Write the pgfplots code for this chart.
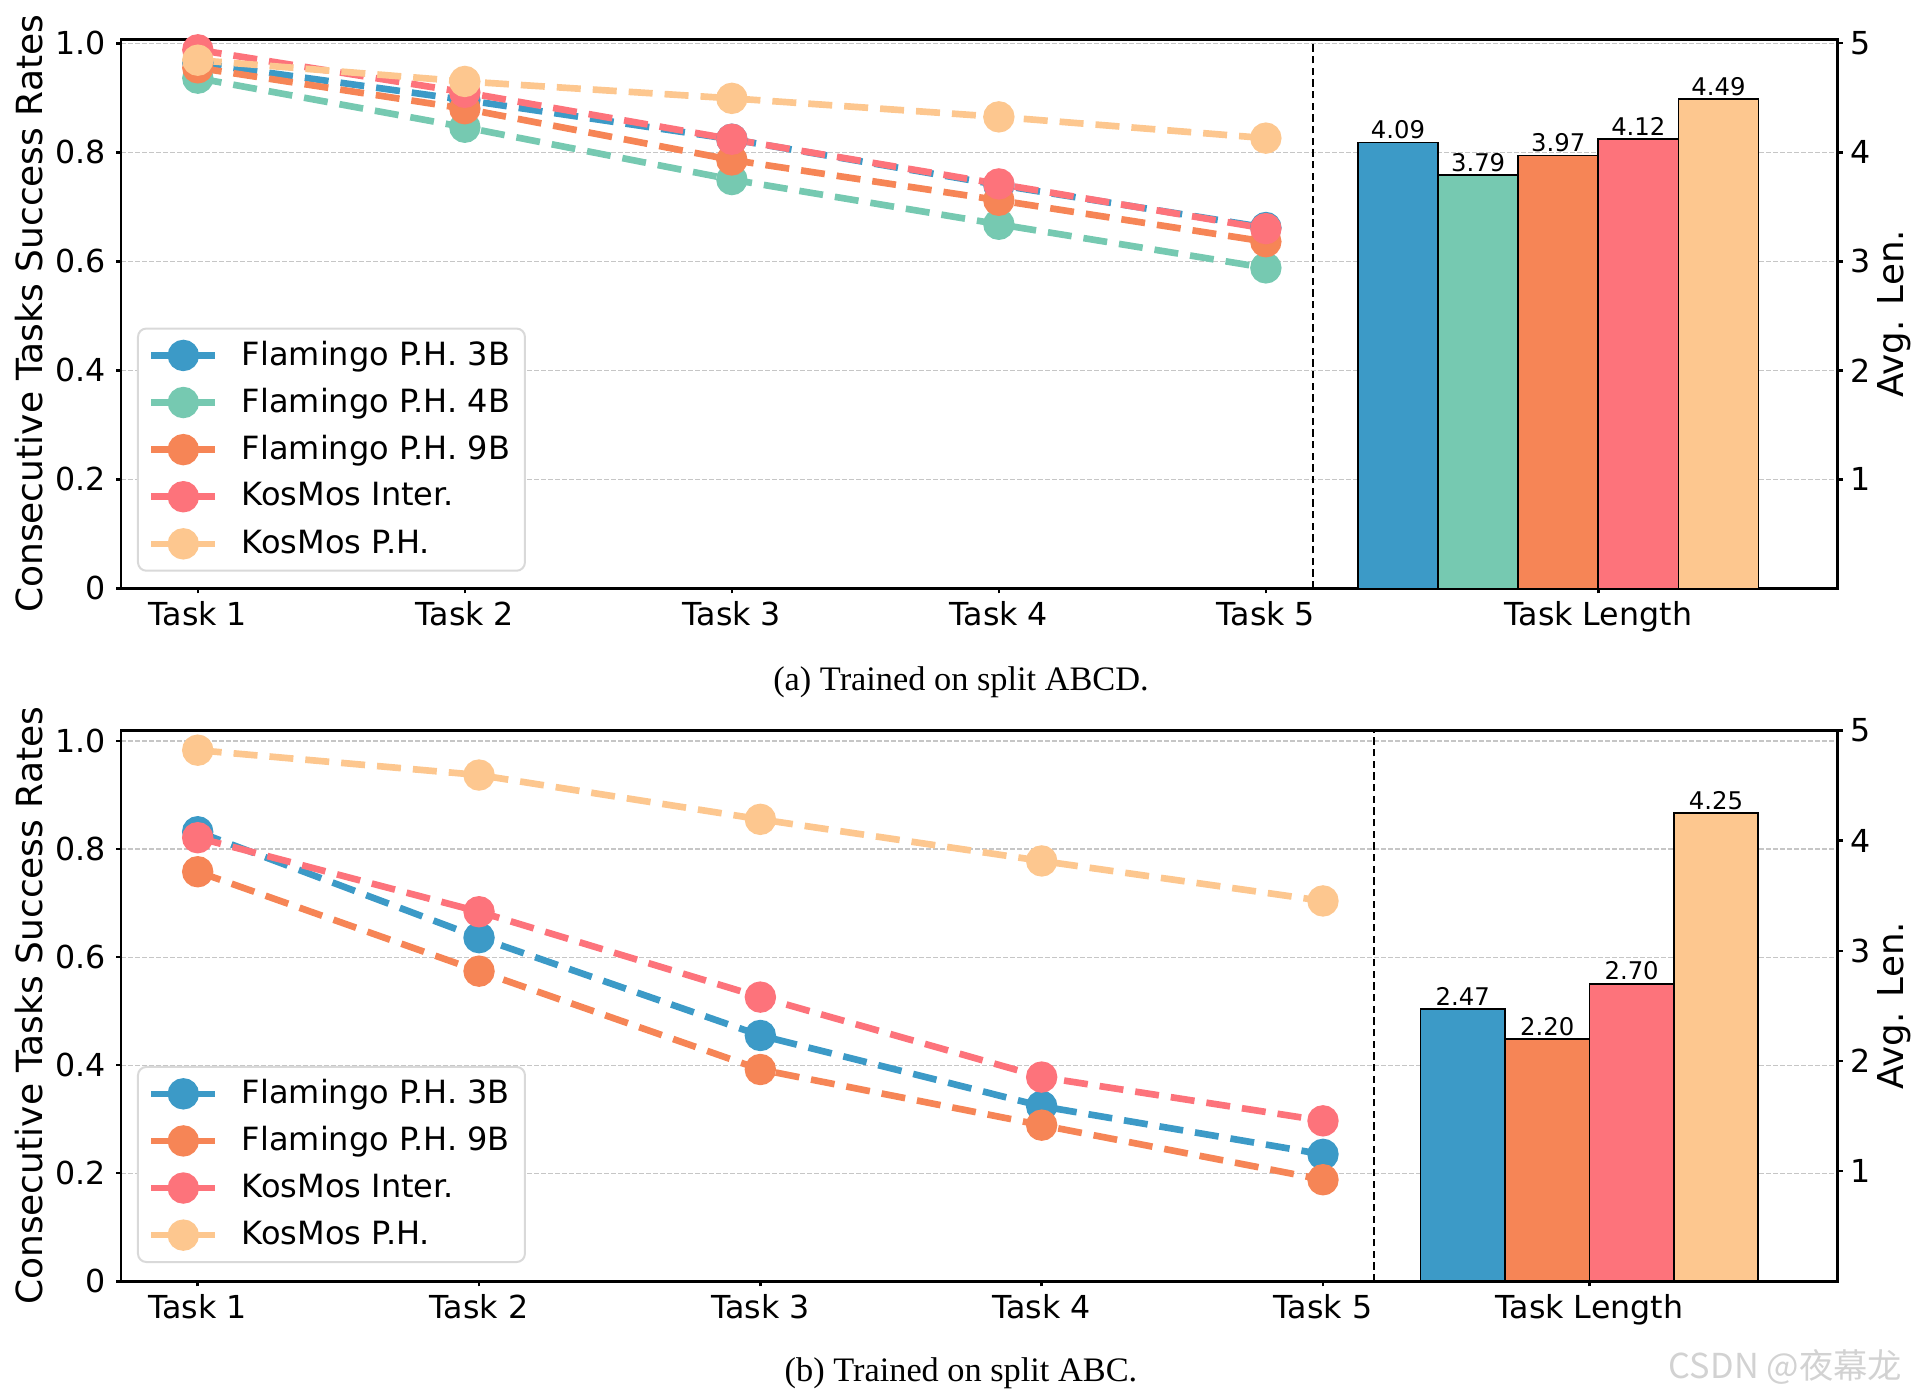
\documentclass[border=0pt]{standalone}
\usepackage{fontspec}
\setmainfont{DejaVu Sans}
\newfontfamily\capfont{Liberation Serif}
\newfontfamily\cjk{Noto Sans CJK SC}
\usepackage{pgfplots}
\pgfplotsset{compat=1.18}

\definecolor{cB}{HTML}{3C9AC7}
\definecolor{cT}{HTML}{76C9B1}
\definecolor{cO}{HTML}{F68556}
\definecolor{cP}{HTML}{FD737B}
\definecolor{cY}{HTML}{FDC78F}

\pgfplotsset{
  lineax/.style={
    scale only axis, width=514.9pt,
    tick pos=left, tick align=outside, major tick length=1.5pt,
    every tick/.style={black, line width=0.75pt},
    axis line style={line width=0.75pt},
    ymin=0,
    ytick={0,0.2,0.4,0.6,0.8,1.0}, yticklabels={0,0.2,0.4,0.6,0.8,1.0},
    ymajorgrids, grid style={dash pattern=on 1.4pt off 0.7pt, gray!45, line width=0.35pt},
    tick label style={font=\fontsize{9.5}{11}\selectfont},
    xticklabel style={yshift=1.1pt},
    yticklabel style={xshift=0.5pt},
    ylabel={Consecutive Tasks Success Rates},
    ylabel style={font=\fontsize{10.8}{12}\selectfont, at={(axis description cs:-0.0537,0.5)}, anchor=center},
    legend cell align=left,
    legend image code/.code={\draw[mark repeat=2,mark phase=2,#1,solid] plot coordinates {(0pt,0pt) (9.6pt,0pt) (19.2pt,0pt)};},
    legend style={anchor=south west, draw=black!15, line width=0.6pt, rounded corners=2.5pt,
      fill=white, font=\fontsize{9.6}{11}\selectfont, inner xsep=3pt, inner ysep=1pt,
      row sep=0pt, column sep=5.5pt, nodes={inner ysep=0pt, inner xsep=1.5pt, minimum height=14.13pt}},
  },
  ser/.style={#1, line width=2pt, dash pattern=on 7.2pt off 3.6pt, mark=*, mark size=3.7pt, mark options={solid}},
  barax/.style={
    scale only axis, width=514.9pt,
    axis x line=none, axis y line*=right,
    ytick pos=right, tick align=outside, major tick length=1.5pt,
    every tick/.style={black, line width=0.75pt},
    axis line style={line width=0.75pt},
    ymin=0, ytick={1,2,3,4,5}, yticklabels={1,2,3,4,5},
    tick label style={font=\fontsize{9.5}{11}\selectfont},
    yticklabel style={xshift=-1.2pt},
    ylabel={Avg. Len.},
    ylabel style={font=\fontsize{10.7}{12}\selectfont, at={(axis description cs:1.033,0.5)}, anchor=center},
    /pgf/number format/assume math mode=true,
    nodes near coords={\pgfmathprintnumber[fixed,fixed zerofill,precision=2]{\pgfplotspointmeta}},
    nodes near coords style={font=\fontsize{7.3}{8}\selectfont, anchor=south, inner sep=0.8pt, black},
  },
  bar/.style={ybar, bar width=0.3, bar shift=0pt, fill=#1, draw=black, line width=0.5pt},
}

\begin{document}
\begin{tikzpicture}[x=0.3pt,y=0.3pt]
\path[use as bounding box] (0,0) rectangle (1917,1399);

% (a) split ABCD
\begin{axis}[lineax, at={(36.36pt,243.18pt)}, anchor=south west, height=164.73pt,
  xmin=-0.287, xmax=6.141, ymax=1.0073,
  xtick={0,1,2,3,4,5.245}, xticklabels={Task 1,Task 2,Task 3,Task 4,Task 5,Task Length},
  legend style={at={(axis description cs:0.0092,0.0304)}}]
\addplot[ser=cB] coordinates {(0,0.964) (1,0.896) (2,0.824) (3,0.740) (4,0.662)};
\addplot[ser=cT] coordinates {(0,0.936) (1,0.846) (2,0.750) (3,0.668) (4,0.588)};
\addplot[ser=cO] coordinates {(0,0.955) (1,0.880) (2,0.786) (3,0.712) (4,0.636)};
\addplot[ser=cP] coordinates {(0,0.988) (1,0.910) (2,0.824) (3,0.742) (4,0.660)};
\addplot[ser=cY] coordinates {(0,0.969) (1,0.930) (2,0.899) (3,0.865) (4,0.826)};
\legend{Flamingo P.H. 3B,Flamingo P.H. 4B,Flamingo P.H. 9B,KosMos Inter.,KosMos P.H.}
\draw[black, line width=0.6pt, dash pattern=on 2.2pt off 1.3pt] (axis cs:4.176,0) -- (axis cs:4.176,1.0073);
\end{axis}
\begin{axis}[barax, at={(36.36pt,243.18pt)}, anchor=south west, height=164.73pt,
  xmin=-0.287, xmax=6.141, ymax=5.036]
\addplot[bar=cB] coordinates {(4.495,4.09)};
\addplot[bar=cT] coordinates {(4.795,3.79)};
\addplot[bar=cO] coordinates {(5.095,3.97)};
\addplot[bar=cP] coordinates {(5.395,4.12)};
\addplot[bar=cY] coordinates {(5.695,4.49)};
\end{axis}
\node[font=\capfont\fontsize{10.3}{12}\selectfont] at (961,717) {(a) Trained on split ABCD.};

% (b) split ABC
\begin{axis}[lineax, at={(36.36pt,35.31pt)}, anchor=south west, height=165.27pt,
  xmin=-0.272, xmax=5.829, ymax=1.0196,
  xtick={0,1,2,3,4,4.947}, xticklabels={Task 1,Task 2,Task 3,Task 4,Task 5,Task Length},
  legend style={at={(axis description cs:0.0092,0.0332)}}]
\addplot[ser=cB] coordinates {(0,0.832) (1,0.636) (2,0.455) (3,0.324) (4,0.235)};
\addplot[ser=cO] coordinates {(0,0.758) (1,0.574) (2,0.392) (3,0.289) (4,0.188)};
\addplot[ser=cP] coordinates {(0,0.821) (1,0.684) (2,0.526) (3,0.378) (4,0.297)};
\addplot[ser=cY] coordinates {(0,0.983) (1,0.937) (2,0.855) (3,0.778) (4,0.704)};
\legend{Flamingo P.H. 3B,Flamingo P.H. 9B,KosMos Inter.,KosMos P.H.}
\draw[black, line width=0.6pt, dash pattern=on 2.2pt off 1.3pt] (axis cs:4.181,0) -- (axis cs:4.181,1.0196);
\end{axis}
\begin{axis}[barax, at={(36.36pt,35.31pt)}, anchor=south west, height=165.27pt,
  xmin=-0.272, xmax=5.829, ymax=5.0]
\addplot[bar=cB] coordinates {(4.497,2.47)};
\addplot[bar=cO] coordinates {(4.797,2.20)};
\addplot[bar=cP] coordinates {(5.097,2.70)};
\addplot[bar=cY] coordinates {(5.397,4.25)};
\end{axis}
\node[font=\capfont\fontsize{10.3}{12}\selectfont] at (961,26) {(b) Trained on split ABC.};

\node[font=\cjk\fontsize{10.3}{12}\selectfont, text=gray!35] at (1785.5,32.3) {CSDN @夜幕龙};
\end{tikzpicture}
\end{document}
